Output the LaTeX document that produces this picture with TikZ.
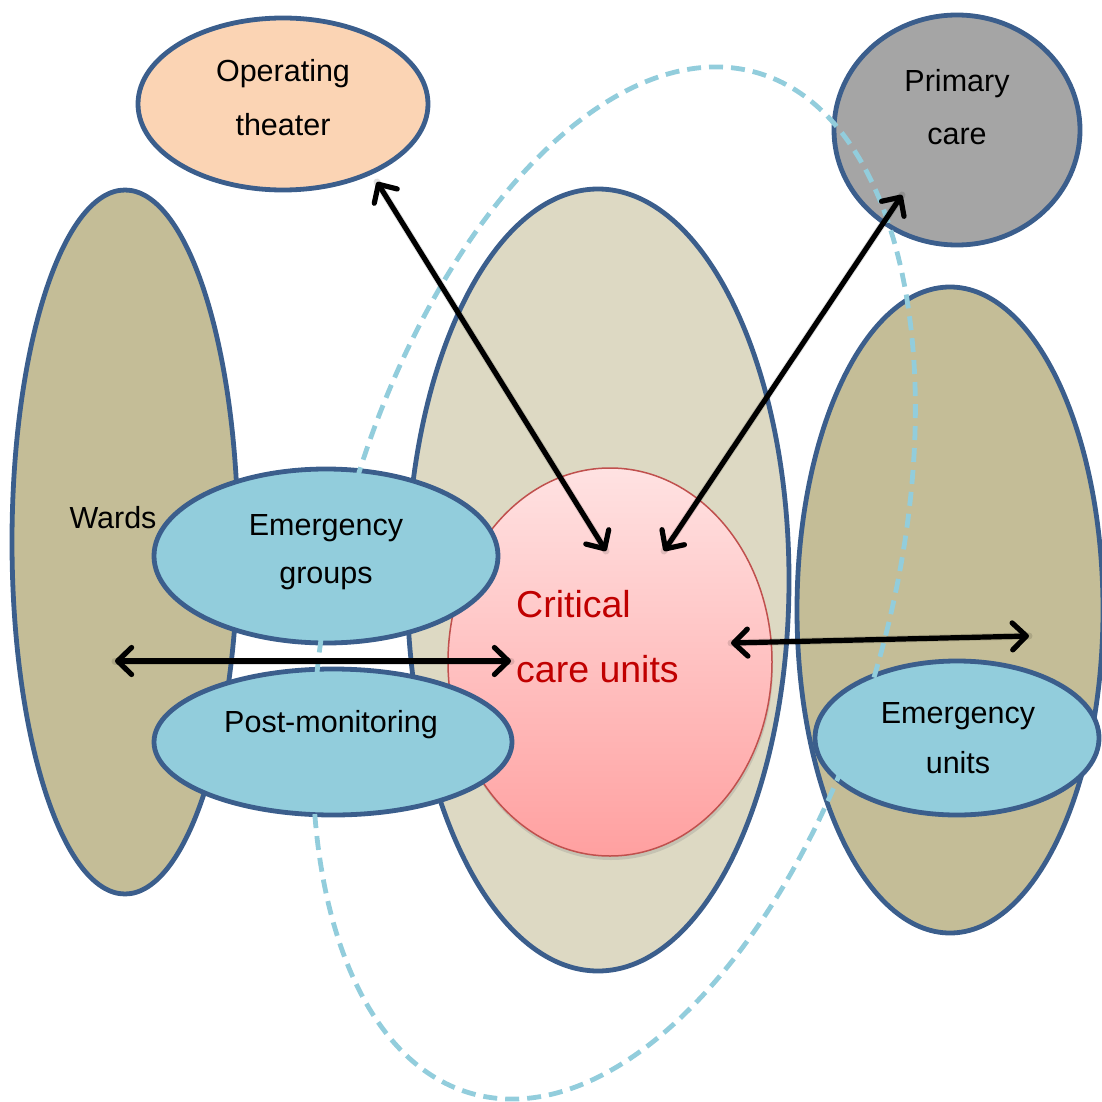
\documentclass[tikz,border=0pt]{standalone}
\usepackage{fontspec}
\setmainfont{Liberation Sans}
\usetikzlibrary{shapes.geometric,arrows.meta,shadows}
\definecolor{bordblue}{RGB}{59,94,140}
\definecolor{lightblue}{RGB}{146,205,220}
\definecolor{khaki}{RGB}{196,189,151}
\definecolor{paleKhaki}{RGB}{221,217,195}
\definecolor{peach}{RGB}{251,212,180}
\definecolor{greyfill}{RGB}{165,165,165}
\definecolor{critred}{RGB}{192,0,0}
\definecolor{critborder}{RGB}{192,80,77}
\definecolor{pinktop}{RGB}{255,226,226}
\definecolor{pinkbot}{RGB}{255,160,160}
\tikzset{
  blob/.style={ellipse, draw=bordblue, line width=4.8pt, inner sep=0pt},
  lbl/.style={anchor=base, inner sep=0pt, font=\fontsize{30.5}{30.5}\selectfont, text=black},
  critlbl/.style={anchor=base west, inner sep=0pt, font=\fontsize{37.5}{37.5}\selectfont, text=critred},
  biarrow/.style={line width=5.2pt, black, line cap=round,
    {Straight Barb[length=14pt,width=27pt,line cap=round,line join=round]}-{Straight Barb[length=14pt,width=27pt,line cap=round,line join=round]}},
  arrshadow/.style={line width=7pt, black, opacity=0.12, line cap=round},
  dashring/.style={ellipse, draw=lightblue, line width=4.8pt, dash pattern=on 14pt off 8pt, inner sep=0pt}
}
\begin{document}
\begin{tikzpicture}[x=1pt,y=-1pt]
\useasboundingbox (0,0) rectangle (1101,1102);
% large background ellipses
\node[blob, fill=khaki, minimum width=226, minimum height=704] (wards) at (125,542) {};
\node[blob, fill=paleKhaki, minimum width=382, minimum height=782] (mid) at (598,580) {};
\node[blob, fill=khaki, minimum width=306, minimum height=646] (right) at (950,610) {};
% critical care
\node[ellipse, draw=critborder, line width=1.5pt, top color=pinktop, bottom color=pinkbot, shading=axis,
  drop shadow={shadow xshift=1pt, shadow yshift=-4pt, opacity=0.25},
  minimum width=324, minimum height=388, inner sep=0pt] (crit) at (610,662) {};
% small blue ellipses
\node[blob, fill=lightblue, minimum width=344, minimum height=174] (egroups) at (326,556) {};
\node[blob, fill=lightblue, minimum width=358, minimum height=146] (postmon) at (333,742) {};
\node[blob, fill=lightblue, minimum width=284, minimum height=154] (eunits) at (957,738) {};
% top ellipses
\node[blob, fill=peach, minimum width=290, minimum height=172] (optheater) at (283,104) {};
\node[blob, fill=greyfill, minimum width=246, minimum height=230] (primary) at (957,130) {};
% dashed ring
\node[dashring, rotate=-15.5, minimum width=552, minimum height=1060] (ring) at (614,583) {};
% texts
\node[lbl] (t1) at (283,82) {Operating};
\node[lbl] (t2) at (283,136) {theater};
\node[lbl] (t3) at (957,92) {Primary};
\node[lbl] (t4) at (957,145) {care};
\node[lbl] (t5) at (113,528) {Wards};
\node[lbl] (t6) at (326,535) {Emergency};
\node[lbl] (t7) at (326,583) {groups};
\node[lbl] (t8) at (331,732) {Post-monitoring};
\node[lbl] (t9) at (958,723) {Emergency};
\node[lbl] (t10) at (958,773) {units};
\node[critlbl] (t11) at (516,617) {Critical};
\node[critlbl] (t12) at (516,682) {care units};
% arrow end points
\coordinate (aOT) at (377,182);
\coordinate (aCC1) at (606,551);
\coordinate (aPC) at (902,195);
\coordinate (aCC2) at (664,551);
\coordinate (aW) at (115,661);
\coordinate (aCC3) at (511,661);
\coordinate (aCC4) at (731,643);
\coordinate (aR) at (1029,636);
% arrow shadows
\begin{scope}[shift={(2,4)}]
\draw[arrshadow] (aOT) -- (aCC1);
\draw[arrshadow] (aPC) -- (aCC2);
\draw[arrshadow] (aW) -- (aCC3);
\draw[arrshadow] (aCC4) -- (aR);
\end{scope}
% arrows
\draw[biarrow] (aOT) -- (aCC1);
\draw[biarrow] (aPC) -- (aCC2);
\draw[biarrow] (aW) -- (aCC3);
\draw[biarrow] (aCC4) -- (aR);
\end{tikzpicture}
\end{document}
